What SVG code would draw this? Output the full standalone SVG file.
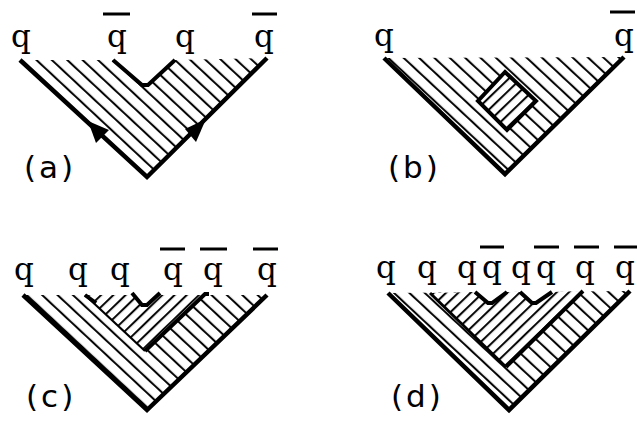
<svg xmlns="http://www.w3.org/2000/svg" width="637" height="421" viewBox="0 0 637 421">
<defs>
<pattern id="hb" width="10.5" height="10" patternUnits="userSpaceOnUse" patternTransform="rotate(-47)"><line x1="2" y1="-1" x2="2" y2="11" stroke="#000" stroke-width="2"/></pattern>
<pattern id="hf" width="8.5" height="10" patternUnits="userSpaceOnUse" patternTransform="rotate(46)"><line x1="2" y1="-1" x2="2" y2="11" stroke="#000" stroke-width="2"/></pattern>
</defs>
<style>
.arm{fill:none;stroke:#000;stroke-width:4.5;stroke-linejoin:miter;stroke-linecap:butt}
.mid{fill:none;stroke:#000;stroke-width:4;stroke-linejoin:miter}
.thin{fill:none;stroke:#000;stroke-width:2.2}
.bar{stroke:#000;stroke-width:3}
.q{font-family:"DejaVu Serif","Liberation Serif",serif;font-size:31px;text-anchor:middle;fill:#000}
.lab{font-family:"DejaVu Sans","Liberation Sans",sans-serif;font-size:31px;letter-spacing:3px;fill:#000}
.hb{fill:url(#hb);stroke:none}
.hf{fill:#fff;stroke:none}
.hf2{fill:url(#hf);stroke:none}
</style>
<rect width="637" height="421" fill="#fff"/>

<g id="panel-a">
<polygon class="hb" points="20,60 113,60 142,85 148,85 175,60 267,58 147,177"/>
<polyline class="arm" points="20,60 147,177 267,58"/>
<polyline class="mid" points="113,60 142,85 148,85 175,60"/>
<polygon points="88,121 96,143 109,130" fill="#000"/>
<polygon points="206,119 185,129 196,142" fill="#000"/>
<text class="q" x="21" y="47">q</text>
<text class="q" x="117" y="47">q</text>
<text class="q" x="185" y="47">q</text>
<text class="q" x="264" y="47">q</text>
<line class="bar" x1="103" y1="14" x2="130" y2="14"/>
<line class="bar" x1="252" y1="14" x2="277" y2="14"/>
<text class="lab" x="24" y="178">(a)</text>
</g>

<g id="panel-b">
<polygon class="hb" points="384,58 624,57 505,174"/>
<polygon class="hf" points="505,72 536,101 507,130 478,101"/>
<polygon class="hf2" points="505,72 536,101 507,130 478,101"/>
<polygon class="mid" points="505,72 536,101 507,130 478,101"/>
<polyline class="arm" points="384,58 505,174 624,57"/>
<text class="q" x="384" y="46">q</text>
<text class="q" x="624" y="46">q</text>
<line class="bar" x1="610" y1="12" x2="635" y2="12"/>
<text class="lab" x="388" y="178">(b)</text>
</g>

<g id="panel-c">
<polygon class="hb" points="23,295 267,295 147,410"/>
<polygon class="hf" points="85,295 203,295 145,351"/>
<polygon class="hf2" points="85,295 132,295 142,305 147,305 160,295 203,295 145,351"/>
<polygon fill="#fff" points="132,293 160,293 147,305 142,305"/>
<polyline class="arm" points="23,295 147,410 267,295"/>
<polyline class="thin" points="85,295 145,351"/>
<polyline class="mid" points="85,295 96,303"/>
<polyline class="mid" points="145,351 205,294 209,294"/>
<polyline class="mid" points="132,293 142,305 147,305 160,293"/>
<text class="q" x="24" y="280">q</text>
<text class="q" x="78" y="280">q</text>
<text class="q" x="120" y="280">q</text>
<text class="q" x="173" y="280">q</text>
<text class="q" x="213" y="280">q</text>
<text class="q" x="267" y="280">q</text>
<line class="bar" x1="160" y1="249" x2="185" y2="249"/>
<line class="bar" x1="200" y1="249" x2="227" y2="249"/>
<line class="bar" x1="253" y1="249" x2="278" y2="249"/>
<text class="lab" x="26" y="407">(c)</text>
</g>

<g id="panel-d">
<polygon class="hb" points="388,293 630,291 509,410"/>
<polygon class="hf" points="430,293 583,291 506,367"/>
<polygon class="hf2" points="430,293 475,292 488,303 492,303 507,292 520,292 532,303 536,303 552,292 583,291 506,367"/>
<polygon fill="#fff" points="475,290 507,290 492,303 488,303"/>
<polygon fill="#fff" points="520,290 552,290 536,303 532,303"/>
<polyline class="arm" points="388,293 509,410 630,291"/>
<polyline class="mid" style="stroke-width:3" points="430,293 506,367"/>
<polyline class="mid" points="506,367 583,291"/>
<polyline class="mid" points="475,292 488,303 492,303 507,292"/>
<polyline class="mid" points="520,292 532,303 536,303 552,292"/>
<text class="q" x="386" y="278">q</text>
<text class="q" x="427" y="278">q</text>
<text class="q" x="467" y="278">q</text>
<text class="q" x="492" y="278">q</text>
<text class="q" x="521" y="278">q</text>
<text class="q" x="546" y="278">q</text>
<text class="q" x="585" y="278">q</text>
<text class="q" x="625" y="278">q</text>
<line class="bar" x1="480" y1="247" x2="504" y2="247"/>
<line class="bar" x1="534" y1="247" x2="559" y2="247"/>
<line class="bar" x1="574" y1="247" x2="599" y2="247"/>
<line class="bar" x1="614" y1="247" x2="637" y2="247"/>
<text class="lab" x="391" y="407">(d)</text>
</g>
</svg>
